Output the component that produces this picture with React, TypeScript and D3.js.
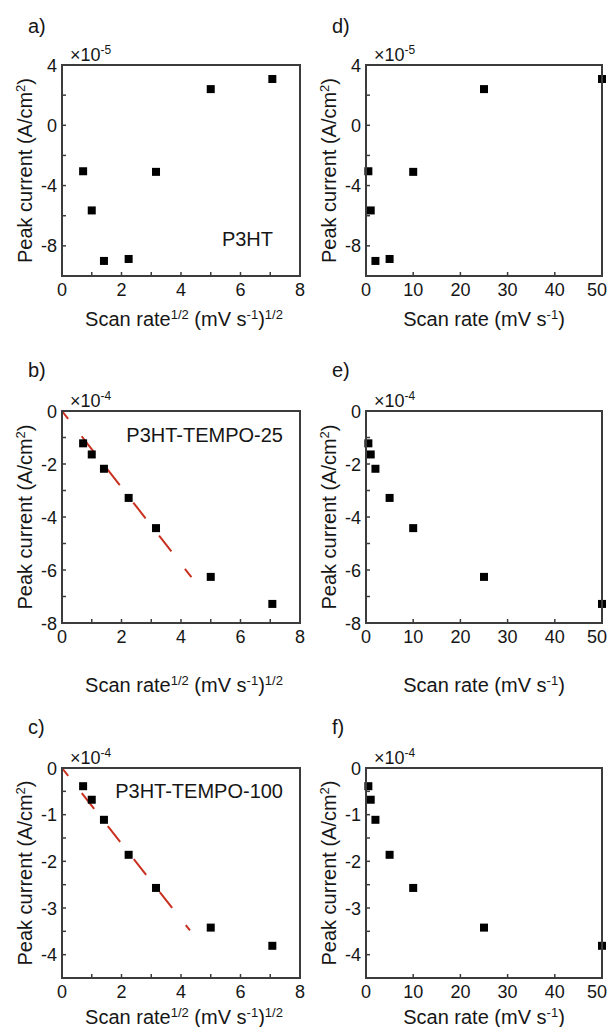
import React from "react";
import * as d3 from "d3";

// ---------- data ----------
const scanRate = [0.5, 1, 2, 5, 10, 25, 50]; // mV s^-1
const sqrtScanRate = [0.71, 1.0, 1.41, 2.24, 3.16, 5.0, 7.07]; // (mV s^-1)^1/2

const currentP3HT = [-3.05, -5.65, -9.0, -8.87, -3.09, 2.4, 3.07]; // x1e-5 A/cm2
const currentTempo25 = [-1.22, -1.64, -2.18, -3.28, -4.42, -6.26, -7.28]; // x1e-4
const currentTempo100 = [-0.39, -0.68, -1.11, -1.86, -2.57, -3.42, -3.81]; // x1e-4

const fitTempo25X = [0, 4.35];
const fitTempo25Y = [0, -6.27];
const fitTempo100X = [0, 4.3];
const fitTempo100Y = [0, -3.48];

const yDomainP3HT = [-10, 4];
const yTicksP3HT = [4, 2, 0, -2, -4, -6, -8];
const yLabelsP3HT = [4, 0, -4, -8];
const yDomainTempo25 = [-8, 0];
const yTicksTempo25 = [0, -1, -2, -3, -4, -5, -6, -7];
const yLabelsTempo25 = [0, -2, -4, -6, -8];
const yDomainTempo100 = [-4.5, 0];
const yTicksTempo100 = [0, -0.5, -1, -1.5, -2, -2.5, -3, -3.5, -4];
const yLabelsTempo100 = [0, -1, -2, -3, -4];

const xDomainSqrt = [0, 8];
const xTicksSqrt = [1, 2, 3, 4, 5, 6, 7];
const xLabelsSqrt = [0, 2, 4, 6, 8];
const xDomainRate = [0, 50];
const xTicksRate = [10, 20, 30, 40];
const xLabelsRate = [0, 10, 20, 30, 40, 50];

const panelLetters = ["a)", "b)", "c)", "d)", "e)", "f)"];
const sampleNames = ["P3HT", "P3HT-TEMPO-25", "P3HT-TEMPO-100"];
const exponents = ["-5", "-4", "-4"];

// ---------- layout ----------
const W = 608;
const H = 1027;
const FONT = "'Liberation Sans', Arial, Helvetica, sans-serif";
const INK = "#161616";
const FRAME = "#3c3c3c";
const RED = "#c9301f";

const cols = [
  { x0: 62, x1: 300 },
  { x0: 366, x1: 602 },
];
const rows = [
  { y0: 65, y1: 276, titleY: 326, letterY: 33 },
  { y0: 411, y1: 623, titleY: 692, letterY: 377 },
  { y0: 768, y1: 978, titleY: 1024, letterY: 734 },
];
const nameOffset = [27, 17, 17];
const nameBaseline = [246, 442, 798];

type PanelProps = {
  col: number;
  row: number;
  xs: number[];
  ys: number[];
  yDomain: number[];
  yTicks: number[];
  yLabels: number[];
  xDomain: number[];
  xTicks: number[];
  xLabels: number[];
  letter: string;
  exponent: string;
  name?: string;
  fit?: { x: number[]; y: number[] };
  sqrtAxis: boolean;
};

function Panel(p: PanelProps) {
  const c = cols[p.col];
  const r = rows[p.row];
  const x = d3.scaleLinear().domain(p.xDomain).range([c.x0, c.x1]);
  const y = d3.scaleLinear().domain(p.yDomain).range([r.y1, r.y0]);
  const tick = 4;
  const sq = 8;
  const line = d3
    .line<number>()
    .x((_, i) => x(p.fit!.x[i]))
    .y((v) => y(v));
  const midY = (r.y0 + r.y1) / 2;
  const midX = (c.x0 + c.x1) / 2;
  return (
    <g fontFamily={FONT} fill={INK}>
      {/* panel letter */}
      <text x={c.x0 - 34} y={r.letterY} fontSize={20}>
        {p.letter}
      </text>
      {/* exponent */}
      <text x={c.x0 + 8} y={r.y0 - 4} fontSize={18}>
        ×10
        <tspan fontSize={12} dy={-7}>
          {p.exponent}
        </tspan>
      </text>
      {/* fit line */}
      {p.fit && (
        <path
          d={line(p.fit.y) || ""}
          fill="none"
          stroke={RED}
          strokeWidth={2}
          strokeDasharray="20 22"
          strokeDashoffset={10}
        />
      )}
      {/* points */}
      {p.xs.map((xv, i) => (
        <rect
          key={i}
          x={x(xv) - sq / 2}
          y={y(p.ys[i]) - sq / 2}
          width={sq}
          height={sq}
          fill="#000"
        />
      ))}
      {/* ticks */}
      {p.yTicks.map((t) => (
        <line
          key={"yt" + t}
          x1={c.x0}
          x2={c.x0 + tick}
          y1={y(t)}
          y2={y(t)}
          stroke={FRAME}
          strokeWidth={1.5}
        />
      ))}
      {p.xTicks.map((t) => (
        <line
          key={"xt" + t}
          x1={x(t)}
          x2={x(t)}
          y1={r.y1}
          y2={r.y1 - tick}
          stroke={FRAME}
          strokeWidth={1.5}
        />
      ))}
      {/* frame */}
      <rect
        x={c.x0}
        y={r.y0}
        width={c.x1 - c.x0}
        height={r.y1 - r.y0}
        fill="none"
        stroke={FRAME}
        strokeWidth={2}
      />
      {/* tick labels */}
      {p.yLabels.map((t) => (
        <text
          key={"yl" + t}
          x={c.x0 - 5}
          y={y(t) + 6.5}
          fontSize={18}
          textAnchor="end"
        >
          {String(t)}
        </text>
      ))}
      {p.xLabels.map((t) => {
        const px = x(t);
        const overflow = px + 11 > W - 1;
        return (
          <text
            key={"xl" + t}
            x={overflow ? W - 1 : px}
            y={r.y1 + 20}
            fontSize={18}
            textAnchor={overflow ? "end" : "middle"}
          >
            {String(t)}
          </text>
        );
      })}
      {/* y title */}
      <text
        transform={`translate(${c.x0 - 30},${midY}) rotate(-90)`}
        fontSize={20}
        textAnchor="middle"
      >
        Peak current (A/cm
        <tspan fontSize={13} dy={-7}>
          2
        </tspan>
        <tspan dy={7}>)</tspan>
      </text>
      {/* x title */}
      {p.sqrtAxis ? (
        <text x={midX + 3} y={r.titleY} fontSize={20} textAnchor="middle">
          Scan rate
          <tspan fontSize={13} dy={-7}>
            1/2
          </tspan>
          <tspan dy={7}> (mV s</tspan>
          <tspan fontSize={13} dy={-7}>
            -1
          </tspan>
          <tspan dy={7}>)</tspan>
          <tspan fontSize={13} dy={-7}>
            1/2
          </tspan>
        </text>
      ) : (
        <text x={midX} y={r.titleY} fontSize={20} textAnchor="middle">
          Scan rate (mV s
          <tspan fontSize={13} dy={-7}>
            -1
          </tspan>
          <tspan dy={7}>)</tspan>
        </text>
      )}
      {/* sample name */}
      {p.name && (
        <text
          x={c.x1 - nameOffset[p.row]}
          y={nameBaseline[p.row]}
          fontSize={20}
          textAnchor="end"
        >
          {p.name}
        </text>
      )}
    </g>
  );
}

export default function App() {
  const series = [currentP3HT, currentTempo25, currentTempo100];
  const yDomains = [yDomainP3HT, yDomainTempo25, yDomainTempo100];
  const yTicks = [yTicksP3HT, yTicksTempo25, yTicksTempo100];
  const yLabels = [yLabelsP3HT, yLabelsTempo25, yLabelsTempo100];
  const fits = [
    undefined,
    { x: fitTempo25X, y: fitTempo25Y },
    { x: fitTempo100X, y: fitTempo100Y },
  ];
  return (
    <svg
      width={W}
      height={H}
      viewBox={`0 0 ${W} ${H}`}
      style={{ position: "absolute", left: 0, top: 0, background: "#fff" }}
    >
      <rect width={W} height={H} fill="#fff" />
      {series.map((ys, row) => (
        <Panel
          key={"L" + row}
          col={0}
          row={row}
          xs={sqrtScanRate}
          ys={ys}
          yDomain={yDomains[row]}
          yTicks={yTicks[row]}
          yLabels={yLabels[row]}
          xDomain={xDomainSqrt}
          xTicks={xTicksSqrt}
          xLabels={xLabelsSqrt}
          letter={panelLetters[row]}
          exponent={exponents[row]}
          name={sampleNames[row]}
          fit={fits[row]}
          sqrtAxis={true}
        />
      ))}
      {series.map((ys, row) => (
        <Panel
          key={"R" + row}
          col={1}
          row={row}
          xs={scanRate}
          ys={ys}
          yDomain={yDomains[row]}
          yTicks={yTicks[row]}
          yLabels={yLabels[row]}
          xDomain={xDomainRate}
          xTicks={xTicksRate}
          xLabels={xLabelsRate}
          letter={panelLetters[row + 3]}
          exponent={exponents[row]}
          sqrtAxis={false}
        />
      ))}
    </svg>
  );
}
